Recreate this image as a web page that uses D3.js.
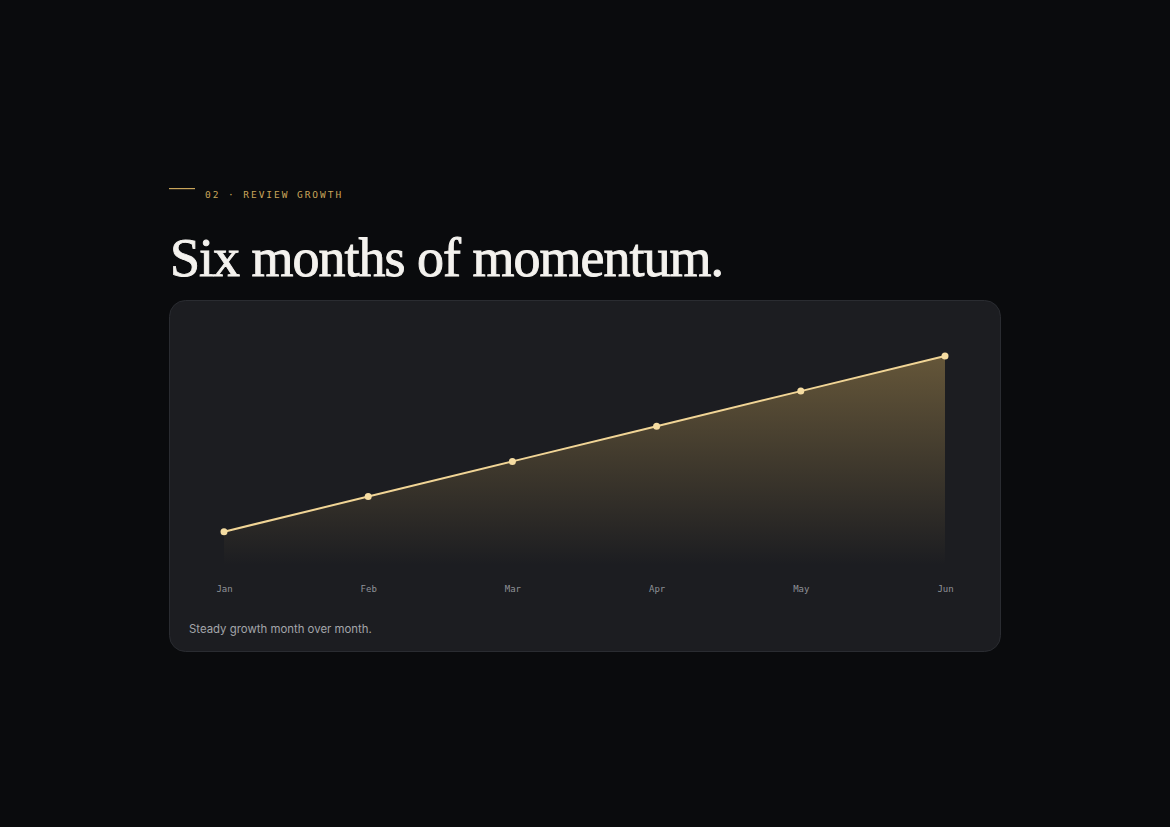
<!DOCTYPE html>
<html>
<head>
<meta charset="utf-8">
<script src="https://cdn.jsdelivr.net/npm/d3@7"></script>
<style>
  html, body { margin: 0; padding: 0; background: #0a0b0d; }
  #chart { width: 1170px; height: 827px; }
</style>
</head>
<body>
<div id="chart"></div>
<script>
// Data
const months = ['Jan', 'Feb', 'Mar', 'Apr', 'May', 'Jun'];
const reviews = [18, 37, 56, 75, 94, 113];

const eyebrow = '02 · REVIEW GROWTH';
const title = 'Six months of momentum.';
const caption = 'Steady growth month over month.';

const width = 1170;
const height = 827;

const svg = d3.select('#chart').append('svg')
    .attr('width', width)
    .attr('height', height);

const defs = svg.append('defs');
const grad = defs.append('linearGradient')
    .attr('id', 'area-grad')
    .attr('x1', 0).attr('y1', 0).attr('x2', 0).attr('y2', 1);
grad.append('stop').attr('offset', '0%').attr('stop-color', '#c9a55a').attr('stop-opacity', 0.42);
grad.append('stop').attr('offset', '100%').attr('stop-color', '#c9a55a').attr('stop-opacity', 0);

// Eyebrow
svg.append('rect')
    .attr('x', 169).attr('y', 188)
    .attr('width', 26).attr('height', 1.2)
    .style('fill', '#c9a55a');

svg.append('text')
    .attr('x', 205)
    .attr('y', 197.5)
    .style('fill', '#c9a55a')
    .style('font-family', '"DejaVu Sans Mono", monospace')
    .style('font-size', '9.5px')
    .style('letter-spacing', '1.95px')
    .text(eyebrow);

// Title
svg.append('text')
    .attr('x', 170)
    .attr('y', 276)
    .style('fill', '#f4f2ee')
    .style('stroke', '#f4f2ee')
    .style('stroke-width', 0.9)
    .style('font-family', '"Liberation Serif", serif')
    .style('font-size', '54px')
    .style('letter-spacing', '-1px')
    .text(title);

// Card
svg.append('rect')
    .attr('x', 169.5).attr('y', 300.5)
    .attr('width', 831).attr('height', 351)
    .attr('rx', 16)
    .style('fill', '#1c1d21')
    .style('stroke', '#2a2c31')
    .style('stroke-width', 1);

// Scales
const x = d3.scalePoint()
    .domain(months)
    .range([224, 945]);

const y = d3.scaleLinear()
    .domain([0, 120])
    .range([565, 343]);

const g = svg.append('g');

const area = d3.area()
    .x((d, i) => x(months[i]))
    .y0(y(0))
    .y1(d => y(d));

const line = d3.line()
    .x((d, i) => x(months[i]))
    .y(d => y(d));

g.append('path')
    .datum(reviews)
    .attr('d', area)
    .style('fill', 'url(#area-grad)');

g.append('path')
    .datum(reviews)
    .attr('d', line)
    .style('fill', 'none')
    .style('stroke', '#f1d596')
    .style('stroke-width', 2);

g.selectAll('circle')
    .data(reviews)
    .join('circle')
    .attr('cx', (d, i) => x(months[i]))
    .attr('cy', d => y(d))
    .attr('r', 3.5)
    .style('fill', '#f5dca2');

// X axis
const xAxis = g.append('g')
    .attr('transform', 'translate(0,' + 592 + ')')
    .call(d3.axisBottom(x).tickSize(0).tickPadding(0));
xAxis.select('.domain').remove();
xAxis.selectAll('text')
    .attr('dy', 0)
    .style('fill', '#8f9298')
    .style('font-family', '"DejaVu Sans Mono", monospace')
    .style('font-size', '9px');

// Caption
svg.append('text')
    .attr('x', 189)
    .attr('y', 633)
    .style('fill', '#a3a5aa')
    .style('font-family', 'Inter, "Noto Sans", sans-serif')
    .style('font-size', '11.4px')
    .text(caption);
</script>
</body>
</html>
